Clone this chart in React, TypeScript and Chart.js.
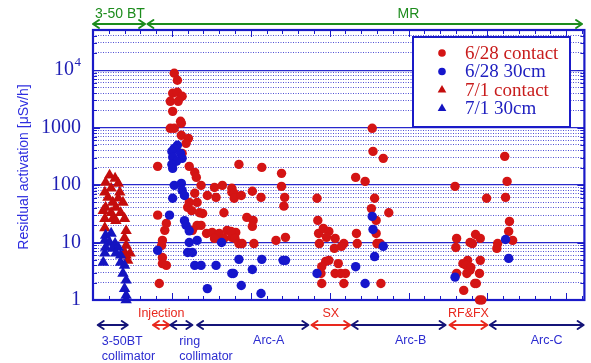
import React, { useEffect, useRef } from 'react';
import { Chart, registerables } from 'chart.js';

Chart.register(...registerables);

// ---- data (x: position along beam line in arbitrary units, y: µSv/h) ----
const contact628: [number, number][] = [
  [103, 8830], [107, 6670], [101, 3960], [107, 4120], [113, 3510], [98, 2870], [108, 2870],
  [101, 1920], [111, 1290], [112, 1190], [98, 973], [103, 973], [112, 735], [121, 651],
  [118, 532], [113, 357], [122, 212], [82, 212], [185, 229], [129, 166], [131, 136],
  [137, 99], [154, 91], [164, 99], [129, 72], [145, 66], [156, 61], [176, 75], [122, 50],
  [132, 50], [120, 41], [125, 36], [135, 33], [139, 32], [166, 33], [132, 19.9], [137, 19.9],
  [126, 16.3], [144, 14.4], [151, 15], [160, 14.4], [170, 16.3], [181, 15], [154, 11.8],
  [166, 11.8], [176, 12.3], [91, 16.3], [88, 10.9], [87, 8.9], [88, 5.5], [88, 4.3], [93, 4.0],
  [84, 1.94], [82, 30], [93, 21.5],
  [214, 203], [239, 160], [239, 95], [243, 61], [242, 43], [176, 88], [179, 72], [179, 59],
  [188, 66], [202, 78], [213, 61], [195, 27.4], [203, 24.3], [202, 19.1], [175, 15.6],
  [180, 11.8], [185, 9.6], [189, 9.6], [204, 9.6], [232, 10.9], [244, 12.3],
  [284, 59], [285, 24.3], [286, 14.4], [287, 9.6], [292, 17.6], [299, 15.6], [296, 12.3],
  [307, 11.8], [318, 9.6], [315, 8.6], [306, 7.9], [295, 4.7], [299, 4.9], [290, 3.8],
  [311, 4.3], [289, 2.9], [307, 2.9], [314, 2.9], [320, 2.9], [290, 1.94], [318, 1.94],
  [333, 136], [345, 116], [354, 973], [355, 386], [368, 292], [357, 59], [353, 39],
  [359, 24.3], [359, 14.4], [360, 9.6], [364, 9.6], [334, 14.4], [335, 9.6], [375, 33],
  [365, 1.94],
  [522, 316], [459, 95], [499, 59], [525, 116], [523, 61], [528, 23.3], [527, 15.6],
  [532, 10.9], [461, 11.8], [460, 8.2], [485, 13.8], [491, 11.8], [478, 10], [481, 9.6],
  [513, 9.6], [512, 7.9], [475, 4.9], [469, 4.3], [473, 4.0], [479, 3.7], [491, 4.9],
  [478, 3.3], [461, 2.9], [474, 2.9], [490, 2.9], [484, 1.94], [486, 1.94], [470, 1.47],
  [490, 1.0], [493, 1.0],
];

const cm30_628: [number, number][] = [
  [107, 492], [103, 436], [100, 386], [111, 357], [101, 304], [113, 292], [106, 260],
  [100, 229], [101, 195], [103, 99], [112, 107], [113, 81], [101, 59], [116, 66], [97, 30],
  [116, 24], [118, 20], [122, 16], [122, 10], [132, 10.9], [163, 10], [82, 7.3], [120, 6.7],
  [126, 6.7], [129, 4.0], [137, 4.0], [156, 4.0], [176, 2.9], [145, 1.58],
  [185, 5.1], [214, 5.1], [241, 4.9], [244, 4.9], [178, 2.9], [202, 3.4], [188, 1.79],
  [213, 1.3], [284, 2.9], [333, 3.8], [345, 1.94], [354, 28.5], [355, 16.9], [368, 8.6],
  [357, 5.7], [523, 11.3], [527, 5.3], [459, 2.5],
];

const contact71: [number, number][] = [
  [21, 148], [28, 131], [16, 111], [32, 107], [23, 88], [15, 75], [34, 75], [19, 61],
  [32, 59], [25, 50], [38, 50], [16, 41], [29, 41], [13, 36], [23, 33], [35, 33], [15, 26],
  [25, 26], [29, 24], [40, 26], [15, 18], [42, 16], [40, 12], [42, 8.9], [40, 6.7],
  [47, 6.5], [42, 6.0], [44, 4.9],
];

const cm30_71: [number, number][] = [
  [16, 13.3], [23, 14.4], [15, 10.9], [21, 10], [28, 9.6], [16, 8.2], [25, 7.9], [32, 8.2],
  [15, 6.5], [29, 6.5], [35, 6.0], [13, 4.5], [35, 4.5], [40, 4.0], [38, 2.9], [42, 2.2],
  [40, 1.58], [42, 1.2], [42, 1.0],
];

const seriesLabels = ['6/28 contact', '6/28 30cm', '7/1 contact', '7/1 30cm'];
const yTitle = 'Residual activation [μSv/h]';

const X_MIN = 0;
const X_MAX = 623;
const Y_MIN = 1;
const Y_MAX = 50000;
const yTickValues: number[] = [];
for (let e = 0; e <= 4; e++) {
  for (let m = 1; m <= 9; m++) {
    const v = m * Math.pow(10, e);
    if (v <= Y_MAX) yTickValues.push(v);
  }
}

// top region spans: [label, from, to]
const topSpans: [string, number, number][] = [
  ['3-50 BT', 0, 66],
  ['MR', 69, 620],
];
// bottom region spans: [label, from, to, kind]
const bottomSpans: [string, number, number, string][] = [
  ['3-50BT\ncollimator', 6, 44, 'blue'],
  ['Injection', 76, 97, 'red'],
  ['ring\ncollimator', 98, 126, 'blue'],
  ['Arc-A', 132, 273, 'blue'],
  ['SX', 277, 326, 'red'],
  ['Arc-B', 328, 447, 'blue'],
  ['RF&FX', 452, 500, 'red'],
  ['Arc-C', 503, 622, 'blue'],
];

const RED = '#d41414';
const BLUE = '#1616cc';
const RED_TRI = '#c40c0c';
const BLUE_TRI = '#1414c0';
const AXIS = '#1a1ac8';
const GREEN = '#1c8c1c';
const NAVY = '#141478';
const LBL_BLUE = '#2c2cd0';
const LBL_RED = '#e8281e';
const SANS = '"Liberation Sans", Arial, Helvetica, sans-serif';
const SERIF = '"Liberation Serif", "Times New Roman", serif';

const isDecade = (v: number) => Math.abs(Math.log10(v) - Math.round(Math.log10(v))) < 1e-9;

function arrow(ctx: CanvasRenderingContext2D, x1: number, x2: number, y: number, color: string) {
  const h = 6, w = 4;
  ctx.save();
  ctx.strokeStyle = color;
  ctx.lineWidth = 2;
  ctx.lineCap = 'round';
  ctx.lineJoin = 'round';
  ctx.beginPath();
  ctx.moveTo(x1, y);
  ctx.lineTo(x2, y);
  ctx.moveTo(x1 + h, y - w);
  ctx.lineTo(x1, y);
  ctx.lineTo(x1 + h, y + w);
  ctx.moveTo(x2 - h, y - w);
  ctx.lineTo(x2, y);
  ctx.lineTo(x2 - h, y + w);
  ctx.stroke();
  ctx.restore();
}

const decorPlugin = {
  id: 'decor',
  beforeDatasetsDraw(chart: any) {
    const { ctx, chartArea: a, scales } = chart;
    const xs = scales.x;
    const ys = scales.y;
    ctx.save();
    ctx.strokeStyle = AXIS;
    ctx.lineWidth = 1;
    ctx.beginPath();
    for (let v = X_MIN; v <= X_MAX; v += 20) {
      const px = Math.round(xs.getPixelForValue(v)) + 0.5;
      const len = v % 100 === 0 ? 7 : 4;
      ctx.moveTo(px, a.bottom);
      ctx.lineTo(px, a.bottom - len);
      ctx.moveTo(px, a.top);
      ctx.lineTo(px, a.top + len);
    }
    for (const t of ys.ticks) {
      const py = Math.round(ys.getPixelForValue(t.value)) + 0.5;
      const len = isDecade(t.value) ? 7 : 4;
      ctx.moveTo(a.left, py);
      ctx.lineTo(a.left + len, py);
      ctx.moveTo(a.right, py);
      ctx.lineTo(a.right - len, py);
    }
    ctx.stroke();
    ctx.lineWidth = 2.2;
    ctx.strokeRect(a.left, a.top, a.right - a.left, a.bottom - a.top);
    ctx.restore();
  },
  afterDraw(chart: any) {
    const { ctx, scales } = chart;
    const xs = scales.x;
    const ys = scales.y;
    ctx.save();

    // y title
    ctx.save();
    ctx.translate(24, 167);
    ctx.rotate(-Math.PI / 2);
    ctx.fillStyle = '#2e2ee0';
    ctx.font = `14px ${SANS}`;
    ctx.textAlign = 'center';
    ctx.textBaseline = 'middle';
    ctx.fillText(yTitle, 0, 0);
    ctx.restore();

    // 10^4 label
    const y4 = ys.getPixelForValue(10000);
    ctx.fillStyle = '#1f1fb4';
    ctx.textBaseline = 'middle';
    ctx.textAlign = 'right';
    ctx.font = `13px ${SERIF}`;
    ctx.fillText('4', 81, y4 - 8);
    const w4 = ctx.measureText('4').width;
    ctx.font = `20px ${SERIF}`;
    ctx.fillText('10', 81 - w4 - 0.5, y4);

    // legend
    const lx = 413, ly = 37, lw = 157, lh = 90;
    ctx.fillStyle = '#ffffff';
    ctx.fillRect(lx, ly, lw, lh);
    ctx.strokeStyle = AXIS;
    ctx.lineWidth = 2;
    ctx.strokeRect(lx, ly, lw, lh);
    const rows = [53, 71.5, 90, 108.5];
    chart.data.datasets.forEach((ds: any) => {
      const idx = seriesLabels.indexOf(ds.label);
      const ry = rows[idx];
      const mx = 442;
      ctx.fillStyle = ds.backgroundColor;
      ctx.beginPath();
      if (ds.pointStyle === 'triangle') {
        const r = 5;
        ctx.moveTo(mx, ry - r);
        ctx.lineTo(mx + r * 0.866, ry + r * 0.5);
        ctx.lineTo(mx - r * 0.866, ry + r * 0.5);
        ctx.closePath();
      } else {
        ctx.arc(mx, ry, 3.8, 0, Math.PI * 2);
      }
      ctx.fill();
      ctx.font = `19px ${SERIF}`;
      ctx.textAlign = 'left';
      ctx.textBaseline = 'middle';
      ctx.fillStyle = ds.backgroundColor === RED || ds.backgroundColor === RED_TRI ? '#c81c1c' : '#2020c0';
      ctx.fillText(ds.label, 465, ry + 1);
    });

    // top spans
    const topY = 24;
    topSpans.forEach(([label, from, to], i) => {
      const x1 = xs.getPixelForValue(from);
      const x2 = xs.getPixelForValue(to);
      arrow(ctx, x1, x2, topY, GREEN);
      ctx.fillStyle = GREEN;
      ctx.font = `14px ${SANS}`;
      ctx.textBaseline = 'middle';
      if (i === 0) {
        ctx.textAlign = 'left';
        ctx.fillText(label, x1 + 2, 14);
      } else {
        ctx.textAlign = 'center';
        ctx.fillText(label, xs.getPixelForValue(400), 14);
      }
    });

    // bottom spans
    const botY = 325;
    bottomSpans.forEach(([label, from, to, kind]) => {
      const x1 = xs.getPixelForValue(from);
      const x2 = xs.getPixelForValue(to);
      arrow(ctx, x1, x2, botY, kind === 'red' ? LBL_RED : NAVY);
      ctx.font = `12.5px ${SANS}`;
      ctx.textBaseline = 'middle';
      if (kind === 'red') {
        ctx.fillStyle = LBL_RED;
        ctx.textAlign = 'center';
        ctx.fillText(label, (x1 + x2) / 2, 314);
      } else if (label.includes('\n')) {
        const [l1, l2] = label.split('\n');
        ctx.fillStyle = LBL_BLUE;
        ctx.textAlign = 'left';
        const tx = label.startsWith('ring') ? x1 + 9 : x1 + 4;
        ctx.fillText(l1, tx, 342);
        ctx.fillText(l2, tx, 357);
      } else {
        ctx.fillStyle = LBL_BLUE;
        ctx.textAlign = 'center';
        const cx = label === 'Arc-C' ? (x1 + x2) / 2 + 10 : label === 'Arc-A' ? (x1 + x2) / 2 + 16 : (x1 + x2) / 2 + 12;
        ctx.fillText(label, cx, 341);
      }
    });
    ctx.restore();
  },
};

const toPts = (arr: [number, number][]) => arr.map(([x, y]) => ({ x, y }));

export default function App() {
  const ref = useRef<HTMLCanvasElement>(null);
  useEffect(() => {
    if (!ref.current) return;
    const chart = new Chart(ref.current, {
      type: 'scatter',
      data: {
        datasets: [
          { label: seriesLabels[0], data: toPts(contact628), pointStyle: 'circle', pointRadius: 4.7, backgroundColor: RED, borderColor: RED, borderWidth: 0, order: 2, clip: false } as any,
          { label: seriesLabels[1], data: toPts(cm30_628), pointStyle: 'circle', pointRadius: 4.7, backgroundColor: BLUE, borderColor: BLUE, borderWidth: 0, order: 1, clip: false } as any,
          { label: seriesLabels[2], data: toPts(contact71), pointStyle: 'triangle', pointRadius: 6.6, backgroundColor: RED_TRI, borderColor: RED_TRI, borderWidth: 0, order: 4, clip: false } as any,
          { label: seriesLabels[3], data: toPts(cm30_71), pointStyle: 'triangle', pointRadius: 6.6, backgroundColor: BLUE_TRI, borderColor: BLUE_TRI, borderWidth: 0, order: 3, clip: false } as any,
        ],
      },
      plugins: [decorPlugin],
      options: {
        animation: false,
        responsive: false,
        devicePixelRatio: 1,
        layout: { padding: { top: 30, right: 4, left: 0, bottom: 0 } },
        plugins: { legend: { display: false }, tooltip: { enabled: false } },
        scales: {
          x: {
            type: 'linear',
            min: X_MIN,
            max: X_MAX,
            ticks: { display: false },
            grid: { display: false },
            border: { display: false },
            afterFit: (s: any) => { s.height = 63; },
          },
          y: {
            type: 'logarithmic',
            min: Y_MIN,
            max: Y_MAX,
            afterBuildTicks: (s: any) => {
              s.ticks = yTickValues.map((v) => ({ value: v, major: isDecade(v) }));
            },
            afterFit: (s: any) => { s.width = 93; },
            ticks: {
              autoSkip: false,
              padding: 12,
              color: '#1f1fb4',
              font: { family: SERIF, size: 20 },
              callback: (v: any) => {
                const n = Number(v);
                if (!isDecade(n) || n >= 10000) return '';
                return String(Math.round(n));
              },
            },
            grid: {
              drawTicks: false,
              color: (c: any) => (c.tick && isDecade(c.tick.value) ? '#2828cc' : 'rgba(50,50,205,0.85)'),
              lineWidth: (c: any) => (c.tick && isDecade(c.tick.value) ? 1.3 : 1),
            },
            border: {
              display: false,
              dash: (c: any) => (c.tick && !isDecade(c.tick.value) ? [1, 1.5] : []),
            },
            title: { display: false },
          },
        },
      } as any,
    });
    return () => chart.destroy();
  }, []);
  return (
    <div style={{ position: 'fixed', left: 0, top: 0, width: 591, height: 363, background: '#fff' }}>
      <canvas ref={ref} width={591} height={363} style={{ display: 'block' }} />
    </div>
  );
}
